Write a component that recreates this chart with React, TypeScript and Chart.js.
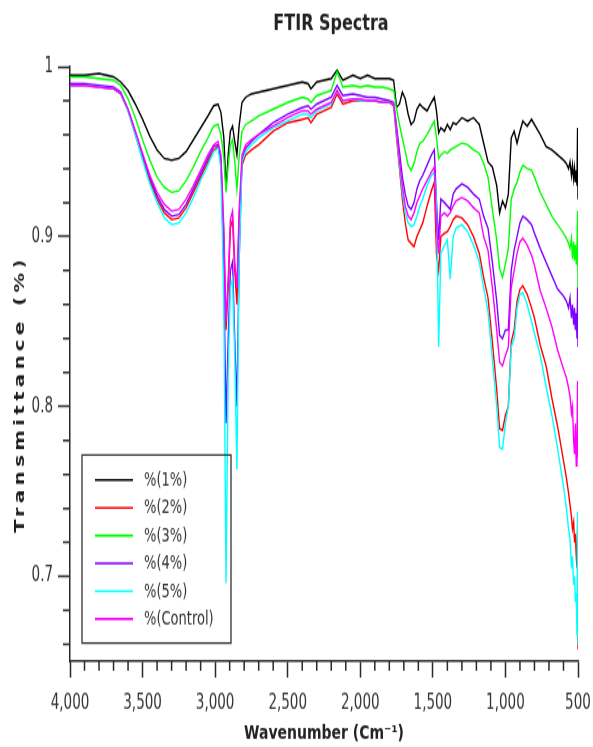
import React, { useEffect, useRef } from 'react';
import { Chart, registerables } from 'chart.js';

Chart.register(...registerables);

// ---------------- data ----------------
const WAVENUMBERS = [
  4000, 3900, 3800, 3700, 3650, 3600, 3550, 3500, 3450, 3400,
  3350, 3300, 3250, 3200, 3150, 3100, 3050, 3010, 2980, 2960,
  2940, 2925, 2910, 2895, 2880, 2865, 2850, 2835, 2815, 2790,
  2750, 2700, 2600, 2500, 2400, 2360, 2340, 2300, 2200, 2160,
  2120, 2050, 2000, 1950, 1900, 1850, 1800, 1770, 1750, 1730,
  1710, 1690, 1670, 1650, 1630, 1610, 1590, 1570, 1540, 1510,
  1490, 1475, 1460, 1445, 1420, 1400, 1380, 1360, 1340, 1300,
  1260, 1220, 1180, 1150, 1120, 1090, 1060, 1040, 1020, 1000,
  980, 960, 940, 920, 900, 880, 850, 820, 800, 760,
  720, 680, 640, 600, 580, 565, 555, 545, 538, 530,
  524, 518, 512, 507, 503, 500,
];

const T_1PCT = [
  0.995, 0.995, 0.996, 0.994, 0.991, 0.986, 0.978, 0.969, 0.959, 0.951,
  0.946, 0.945, 0.946, 0.950, 0.957, 0.964, 0.971, 0.977, 0.978, 0.973,
  0.958, 0.928, 0.948, 0.962, 0.965, 0.956, 0.948, 0.965, 0.979, 0.982,
  0.984, 0.985, 0.987, 0.989, 0.991, 0.990, 0.987, 0.991, 0.993, 0.998,
  0.992, 0.995, 0.993, 0.995, 0.993, 0.993, 0.993, 0.992, 0.976, 0.978,
  0.985, 0.981, 0.972, 0.966, 0.968, 0.975, 0.978, 0.976, 0.974, 0.979,
  0.982, 0.974, 0.961, 0.964, 0.962, 0.966, 0.963, 0.967, 0.966, 0.970,
  0.968, 0.970, 0.966, 0.955, 0.944, 0.941, 0.930, 0.914, 0.921, 0.917,
  0.925, 0.958, 0.962, 0.955, 0.962, 0.968, 0.965, 0.969, 0.966, 0.960,
  0.953, 0.951, 0.948, 0.945, 0.943, 0.940, 0.944, 0.936, 0.942, 0.934,
  0.940, 0.932, 0.939, 0.930, 0.964, 0.922,
];

const T_2PCT = [
  0.989, 0.989, 0.988, 0.987, 0.984, 0.974, 0.960, 0.946, 0.933, 0.922,
  0.914, 0.910, 0.911, 0.917, 0.926, 0.935, 0.944, 0.951, 0.953, 0.944,
  0.900, 0.845, 0.870, 0.905, 0.910, 0.880, 0.860, 0.910, 0.942, 0.948,
  0.951, 0.954, 0.962, 0.967, 0.969, 0.970, 0.967, 0.972, 0.976, 0.984,
  0.978, 0.980, 0.980, 0.980, 0.980, 0.979, 0.979, 0.977, 0.958, 0.940,
  0.922, 0.908, 0.898, 0.896, 0.894, 0.900, 0.904, 0.908, 0.918, 0.927,
  0.932, 0.890, 0.880, 0.900, 0.902, 0.903, 0.906, 0.910, 0.912, 0.911,
  0.907, 0.900, 0.890, 0.876, 0.864, 0.838, 0.810, 0.787, 0.786, 0.795,
  0.800, 0.838, 0.845, 0.862, 0.869, 0.871, 0.866, 0.858, 0.852, 0.836,
  0.824, 0.805, 0.788, 0.768, 0.758, 0.749, 0.742, 0.735, 0.728, 0.732,
  0.720, 0.725, 0.712, 0.705, 0.730, 0.657,
];

const T_3PCT = [
  0.994, 0.994, 0.993, 0.992, 0.989, 0.981, 0.970, 0.957, 0.945, 0.935,
  0.929, 0.926, 0.927, 0.933, 0.941, 0.950, 0.958, 0.965, 0.966, 0.960,
  0.946, 0.926, 0.942, 0.954, 0.957, 0.944, 0.928, 0.946, 0.962, 0.966,
  0.968, 0.971, 0.975, 0.979, 0.982, 0.981, 0.979, 0.983, 0.986, 0.997,
  0.988, 0.989, 0.988, 0.989, 0.988, 0.988, 0.987, 0.986, 0.975, 0.966,
  0.958, 0.950, 0.942, 0.939, 0.943, 0.950, 0.955, 0.956, 0.960, 0.965,
  0.968, 0.958, 0.946, 0.948, 0.950, 0.949, 0.951, 0.952, 0.953, 0.955,
  0.954, 0.951, 0.949, 0.943, 0.935, 0.916, 0.898, 0.881, 0.876, 0.884,
  0.893, 0.922, 0.928, 0.932, 0.938, 0.942, 0.940, 0.939, 0.935, 0.926,
  0.919, 0.912, 0.907, 0.902, 0.899, 0.896, 0.893, 0.899, 0.887, 0.897,
  0.886, 0.895, 0.884, 0.893, 0.915, 0.866,
];

const T_4PCT = [
  0.990, 0.990, 0.989, 0.988, 0.985, 0.975, 0.962, 0.948, 0.935, 0.924,
  0.916, 0.912, 0.913, 0.919, 0.928, 0.937, 0.946, 0.953, 0.954, 0.945,
  0.880, 0.790, 0.840, 0.880, 0.885, 0.840, 0.800, 0.885, 0.945, 0.952,
  0.956, 0.960, 0.967, 0.972, 0.976, 0.977, 0.975, 0.978, 0.982, 0.989,
  0.983, 0.984, 0.983, 0.982, 0.982, 0.981, 0.980, 0.979, 0.965, 0.950,
  0.935, 0.925, 0.918, 0.916, 0.920, 0.928, 0.933, 0.936, 0.942, 0.948,
  0.951, 0.920, 0.898, 0.922, 0.920, 0.918, 0.916, 0.925, 0.928, 0.931,
  0.929, 0.925, 0.922, 0.912, 0.905, 0.885, 0.862, 0.842, 0.840, 0.845,
  0.845, 0.880, 0.892, 0.900, 0.908, 0.912, 0.910, 0.907, 0.902, 0.893,
  0.885, 0.877, 0.869, 0.865, 0.862, 0.858, 0.864, 0.852, 0.860, 0.848,
  0.858, 0.845, 0.855, 0.840, 0.870, 0.835,
];

const T_5PCT = [
  0.989, 0.989, 0.988, 0.987, 0.984, 0.974, 0.960, 0.945, 0.931, 0.920,
  0.911, 0.907, 0.908, 0.914, 0.923, 0.933, 0.942, 0.950, 0.952, 0.940,
  0.860, 0.696, 0.820, 0.870, 0.875, 0.830, 0.763, 0.885, 0.944, 0.950,
  0.954, 0.958, 0.964, 0.968, 0.972, 0.972, 0.970, 0.974, 0.978, 0.986,
  0.980, 0.981, 0.980, 0.980, 0.980, 0.979, 0.979, 0.978, 0.960, 0.942,
  0.926, 0.914, 0.908, 0.906, 0.907, 0.912, 0.918, 0.922, 0.930, 0.936,
  0.938, 0.920, 0.835, 0.890, 0.895, 0.898, 0.875, 0.900, 0.905, 0.907,
  0.903, 0.895, 0.885, 0.870, 0.856, 0.828, 0.800, 0.776, 0.775, 0.790,
  0.800, 0.835, 0.840, 0.858, 0.866, 0.867, 0.860, 0.850, 0.843, 0.830,
  0.812, 0.795, 0.775, 0.753, 0.740, 0.728, 0.722, 0.705, 0.712, 0.695,
  0.700, 0.685, 0.690, 0.665, 0.738, 0.660,
];

const T_CONTROL = [
  0.989, 0.989, 0.988, 0.987, 0.984, 0.975, 0.962, 0.949, 0.936, 0.926,
  0.919, 0.915, 0.916, 0.922, 0.930, 0.939, 0.948, 0.954, 0.956, 0.948,
  0.905, 0.850, 0.875, 0.910, 0.915, 0.885, 0.870, 0.915, 0.948, 0.954,
  0.957, 0.960, 0.965, 0.970, 0.974, 0.974, 0.972, 0.975, 0.979, 0.986,
  0.980, 0.981, 0.981, 0.980, 0.980, 0.979, 0.979, 0.978, 0.962, 0.945,
  0.930, 0.918, 0.912, 0.910, 0.914, 0.920, 0.924, 0.928, 0.933, 0.938,
  0.941, 0.905, 0.890, 0.912, 0.914, 0.912, 0.914, 0.918, 0.921, 0.923,
  0.921, 0.917, 0.914, 0.900, 0.892, 0.870, 0.845, 0.826, 0.824, 0.830,
  0.835, 0.870, 0.880, 0.890, 0.897, 0.899, 0.895, 0.889, 0.883, 0.868,
  0.858, 0.847, 0.833, 0.822, 0.817, 0.811, 0.806, 0.796, 0.800, 0.780,
  0.772, 0.790, 0.765, 0.780, 0.815, 0.770,
];

const SERIES_LABELS = ['%(1%)', '%(2%)', '%(3%)', '%(4%)', '%(5%)', '%(Control)'];
const SERIES_VALUES = [T_1PCT, T_2PCT, T_3PCT, T_4PCT, T_5PCT, T_CONTROL];
const SERIES_COLORS = ['#000000', '#ff0000', '#00ff00', '#7f00ff', '#00ffff', '#ff00ff'];

const X_TICKS = [4000, 3500, 3000, 2500, 2000, 1500, 1000, 500];
const X_MINOR_TICKS = [
  3900, 3800, 3700, 3600, 3400, 3300, 3200, 3100, 2900, 2800, 2700, 2600,
  2400, 2300, 2200, 2100, 1900, 1800, 1700, 1600, 1400, 1300, 1200, 1100,
  900, 800, 700, 600,
];
const Y_TICKS = [1, 0.9, 0.8, 0.7];
const Y_MINOR_TICKS = [0.98, 0.96, 0.94, 0.92, 0.88, 0.86, 0.84, 0.82, 0.78, 0.76, 0.74, 0.72, 0.68, 0.66];

const TITLE = 'FTIR Spectra';
const X_TITLE = 'Wavenumber (Cm\u207B\u00B9)';
const Y_TITLE = 'Transmittance (%)';

// ---------------- layout ----------------
const W = 593;
const H = 549; // drawn height, stretched vertically to 747
const STRETCH = 747 / H;
const AXIS_COLOR = '#2a2a2a';
const TEXT_COLOR = '#333333';
const FONT = "'DejaVu Sans Condensed', 'DejaVu Sans', sans-serif";
const BOLD_FONT = "'DejaVu Sans', sans-serif";

const decorPlugin = {
  id: 'decor',
  afterDraw(chart: any) {
    const ctx: CanvasRenderingContext2D = chart.ctx;
    const { left, bottom } = chart.chartArea;
    const xs = chart.scales.x;
    const ys = chart.scales.y;
    ctx.save();

    // minor ticks
    ctx.strokeStyle = AXIS_COLOR;
    ctx.lineWidth = 1.5;
    ctx.beginPath();
    for (const v of X_MINOR_TICKS) {
      const px = xs.getPixelForValue(v);
      ctx.moveTo(px, bottom);
      ctx.lineTo(px, bottom + 7);
    }
    for (const v of Y_MINOR_TICKS) {
      const py = ys.getPixelForValue(v);
      ctx.moveTo(left - 7, py);
      ctx.lineTo(left, py);
    }
    ctx.stroke();

    // chart title
    ctx.fillStyle = '#222222';
    ctx.font = `bold 16px ${BOLD_FONT}`;
    ctx.textAlign = 'center';
    ctx.textBaseline = 'middle';
    ctx.fillText(TITLE, 331, 18);

    // y axis title (letter-spaced)
    ctx.save();
    ctx.translate(20.5, 281.5);
    ctx.rotate(-Math.PI / 2);
    ctx.font = `bold 14.5px ${BOLD_FONT}`;
    (ctx as any).letterSpacing = '0px';
    const baseW = ctx.measureText(Y_TITLE).width;
    const targetLen = 204;
    const spacing = Math.max(0, (targetLen - baseW) / Y_TITLE.length);
    (ctx as any).letterSpacing = `${spacing.toFixed(2)}px`;
    ctx.textAlign = 'left';
    ctx.textBaseline = 'middle';
    ctx.fillStyle = '#1e1e1e';
    ctx.fillText(Y_TITLE, -110, 0);
    (ctx as any).letterSpacing = '0px';
    ctx.restore();

    // legend
    const bx = 82, by = 334.4, bw = 149, bh = 138.2;
    ctx.strokeStyle = '#333333';
    ctx.lineWidth = 1.3;
    ctx.strokeRect(bx, by, bw, bh);
    ctx.font = `14.5px ${FONT}`;
    ctx.textAlign = 'left';
    ctx.textBaseline = 'middle';
    SERIES_LABELS.forEach((label, i) => {
      const y = 352.8 + i * 20.42;
      ctx.strokeStyle = SERIES_COLORS[i];
      ctx.lineWidth = 1.6;
      ctx.beginPath();
      ctx.moveTo(95, y);
      ctx.lineTo(133, y);
      ctx.stroke();
      ctx.fillStyle = TEXT_COLOR;
      ctx.fillText(label, 144, y + 0.5);
    });

    ctx.restore();
  },
};

export default function App() {
  const canvasRef = useRef<HTMLCanvasElement>(null);

  useEffect(() => {
    const canvas = canvasRef.current;
    if (!canvas) return;

    const datasets = SERIES_LABELS.map((label, i) => ({
      label,
      data: WAVENUMBERS.map((x, j) => ({ x, y: SERIES_VALUES[i][j] })),
      borderColor: SERIES_COLORS[i],
      backgroundColor: SERIES_COLORS[i],
      borderWidth: 1.4,
      pointRadius: 0,
      tension: 0,
      fill: false,
      order: SERIES_LABELS.length - 1 - i,
    }));

    const chart = new Chart(canvas, {
      type: 'line',
      data: { datasets },
      options: {
        animation: false,
        responsive: false,
        devicePixelRatio: 1,
        events: [],
        layout: { padding: { top: 49, right: 15, bottom: 0, left: 0 } },
        plugins: {
          legend: { display: false },
          title: { display: false },
          tooltip: { enabled: false },
        },
        scales: {
          x: {
            type: 'linear',
            reverse: true,
            min: 500,
            max: 4000,
            afterBuildTicks: (scale: any) => {
              scale.ticks = X_TICKS.map((v) => ({ value: v }));
            },
            afterFit: (scale: any) => {
              scale.height = 63;
              scale.paddingLeft = 0;
              scale.paddingRight = 0;
            },
            ticks: {
              autoSkip: false,
              maxRotation: 0,
              padding: 10,
              color: TEXT_COLOR,
              font: { family: FONT, size: 15 },
              callback: (v: any) => Number(v).toLocaleString('en-US'),
            },
            grid: {
              drawOnChartArea: false,
              drawTicks: true,
              tickLength: 12,
              tickColor: AXIS_COLOR,
              tickWidth: 1.5,
            },
            border: { display: true, color: AXIS_COLOR, width: 1.5 },
            title: {
              display: true,
              text: X_TITLE,
              color: '#222222',
              font: { family: BOLD_FONT, size: 14, weight: 'bold' },
              padding: { top: 0, bottom: 1 },
            },
          },
          y: {
            type: 'linear',
            min: 0.65,
            max: 1.0,
            afterBuildTicks: (scale: any) => {
              scale.ticks = Y_TICKS.map((v) => ({ value: v }));
            },
            afterFit: (scale: any) => {
              scale.width = 70;
              scale.paddingTop = 0;
              scale.paddingBottom = 0;
            },
            ticks: {
              autoSkip: false,
              padding: 5,
              color: TEXT_COLOR,
              font: { family: FONT, size: 15 },
              callback: (v: any) => (Number(v) === 1 ? '1' : Number(v).toFixed(1)),
            },
            grid: {
              drawOnChartArea: false,
              drawTicks: true,
              tickLength: 12,
              tickColor: AXIS_COLOR,
              tickWidth: 1.5,
            },
            border: { display: true, color: AXIS_COLOR, width: 1.5 },
          },
        },
      } as any,
      plugins: [decorPlugin],
    });

    return () => chart.destroy();
  }, []);

  return (
    <div
      style={{
        position: 'fixed',
        left: 0,
        top: 0,
        width: W,
        height: 747,
        overflow: 'hidden',
        background: '#ffffff',
      }}
    >
      <div style={{ width: W, height: H, transform: `scaleY(${STRETCH})`, transformOrigin: '0 0' }}>
        <canvas ref={canvasRef} width={W} height={H} style={{ display: 'block', width: W, height: H }} />
      </div>
    </div>
  );
}
